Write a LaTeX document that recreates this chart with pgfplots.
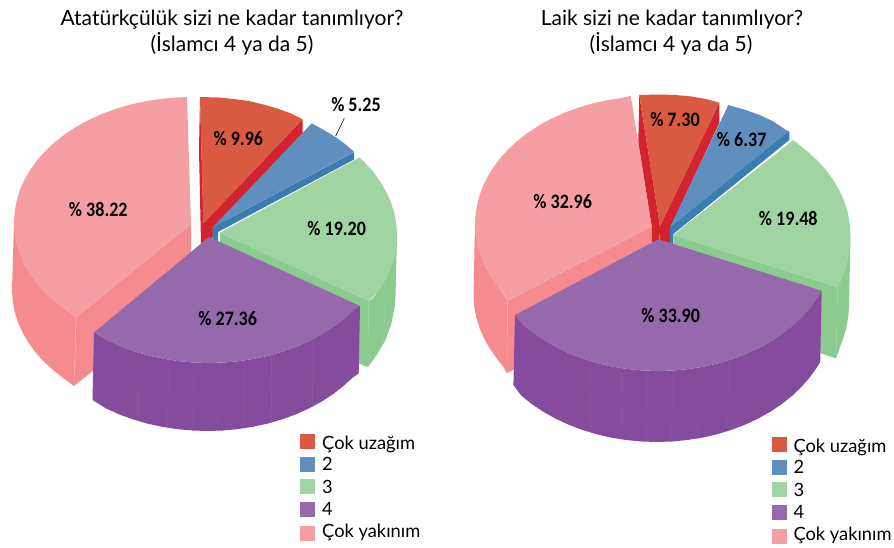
\documentclass[border=0pt]{standalone}
\usepackage{pgfplots}
\pgfplotsset{compat=1.18}
\usepackage{fontspec}
\setmainfont{Lato}
\newfontfamily\labfont[FakeStretch=0.88]{Carlito}
\definecolor{redT}{HTML}{DA5A41}
\definecolor{redW}{HTML}{D2232E}
\definecolor{bluT}{HTML}{5F8FBF}
\definecolor{bluW}{HTML}{3A7DB3}
\definecolor{greT}{HTML}{A0D4A3}
\definecolor{greW}{HTML}{8BCB90}
\definecolor{purT}{HTML}{9669AB}
\definecolor{purW}{HTML}{854B9D}
\definecolor{pinT}{HTML}{F59FA2}
\definecolor{pinW}{HTML}{F58B8E}
\definecolor{seamP}{HTML}{8F5AA6}
\definecolor{seamG}{HTML}{98D09C}
\definecolor{seamK}{HTML}{F7ABAD}
\newcommand{\lab}[3]{\node[font=\labfont\bfseries\fontsize{20.5}{22}\selectfont,inner sep=0pt] at (axis cs:#1,#2) {\% #3};}
\newcommand{\leg}[3]{\node[font=\fontsize{18.3}{20}\selectfont,anchor=base west,inner sep=0pt] at (axis cs:#1,#2) {#3};}
\newcommand{\ttl}[3]{\node[font=\fontsize{21}{24}\selectfont,anchor=base,inner sep=0pt] at (axis cs:#1,#2) {#3};}
\pgfplotsset{
 wedge/.style={draw=none,fill=#1,forget plot,mark=none,line join=round},
 seam/.style={draw=#1,line width=0.4pt,forget plot,mark=none},
}
\begin{document}
\begin{tikzpicture}
\begin{axis}[scale only axis,width=894pt,height=548pt,xmin=0,xmax=894,ymin=0,ymax=548,y dir=reverse,hide axis,clip=false]
\path (axis cs:0,0) rectangle (axis cs:894,548);
% ---------- left pie ----------
\addplot[wedge=pinW] coordinates {(14,222)(16.7,244)(24.7,265)(37.7,284.5)(55.4,302)(66,310)(76,317.5)(74,386)(63.8,378.4)(53.4,370.3)(44,361.7)(35.7,352.5)(28.6,342.8)(22.7,332.8)(18,322.4)(14.7,311.7)(12.7,300.9)(12,290)} -- cycle;
\addplot[wedge=pinW] coordinates {(191,224)(76,317.5)(74,386)(191,292)} -- cycle;
\addplot[wedge=pinT] coordinates {(191,224)(187,97)(175.6,97.5)(160.3,98.9)(145.2,101.3)(130.5,104.5)(116.2,108.7)(102.5,113.7)(89.5,119.6)(77.2,126.2)(65.8,133.6)(55.4,141.7)(46,150.3)(37.7,159.5)(30.6,169.2)(24.7,179.3)(20,189.6)(16.7,200.3)(14.7,211.1)(14,222)(14.7,232.9)(16.7,243.7)(20,254.4)(24.7,264.8)(30.6,274.8)(37.7,284.5)(46,293.7)(55.4,302.3)(65.8,310.4)(76,317.5)} -- cycle;
\addplot[seam=seamK] coordinates {(76,317.5)(74.5,385)};
% red walls
\addplot[wedge=redW] coordinates {(200,97)(203.5,223)(208,238)(201,244)(199,150)} -- cycle;
\addplot[wedge=redW] coordinates {(203.3,223.3)(302.7,119.3)(302.7,133)(215,232)(210,242)(203.3,242)} -- cycle;
\addplot[wedge=redT] coordinates {(203.3,223.3)(200,97)(218.4,97.5)(233.7,99)(248.8,101)(263.5,104.5)(277.8,108.7)(291.5,113.7)(302.7,119.3)} -- cycle;
% blue
\addplot[wedge=bluW] coordinates {(212.7,227.3)(354,152)(354,159.5)(218,232)(218,242)(212.7,242)} -- cycle;
\addplot[wedge=bluT] coordinates {(212.7,227.3)(311.7,123.3)(323,129.5)(335,136.7)(345,144)(354,151.7)} -- cycle;
% green
\addplot[wedge=greW] coordinates {(397,235)(394.3,256.9)(386.3,278.1)(373.3,298)(368.7,301)(367.7,367.3)(376,356)(385,341)(391,325)(394.5,308)(395.5,296)} -- cycle;
\addplot[wedge=greW] coordinates {(220,232.7)(368.7,301)(367.7,367.3)(220,301)} -- cycle;
\addplot[seam=seamG] coordinates {(385.2,279)(383.8,343)};
\addplot[seam=seamG] coordinates {(368.7,301)(368,366)};
\addplot[wedge=greT] coordinates {(220,232.7)(359.5,157.4)(365,162.7)(373.3,172)(380.4,181.8)(386.3,191.9)(391,202.4)(394.3,213.1)(396.3,224)(397,235)(396.3,246)(394.3,256.9)(391,267.6)(386.3,278.1)(380.4,288.2)(373.3,296.5)(368.7,301)} -- cycle;
% purple
\addplot[wedge=purW] coordinates {(94,332.5)(107.5,340.4)(120.5,346.3)(134.2,351.3)(148.5,355.5)(163.2,358.7)(178.3,361.1)(193.6,362.5)(209,363)(224.4,362.5)(239.7,361.1)(254.8,358.7)(269.5,355.5)(283.8,351.3)(297.5,346.3)(310.5,340.4)(322.8,333.8)(334.2,326.4)(344.6,318.3)(354,309.7)(360,306)(358.7,373.5)(352.5,377.7)(343.1,386.3)(332.7,394.4)(321.3,401.8)(309,408.4)(296,414.3)(282.3,419.3)(268,423.5)(253.3,426.7)(238.2,429.1)(222.9,430.5)(207.5,431)(192.1,430.5)(176.8,429.1)(161.7,426.7)(147,423.5)(132.7,419.3)(119,414.3)(106,408.4)(92.5,400)} -- cycle;
\addplot[seam=seamP] coordinates {(139,353)(138.5,421)};
\addplot[seam=seamP] coordinates {(168.3,359.5)(167.8,428)};
\addplot[seam=seamP] coordinates {(193.3,362.5)(192.8,430.5)};
\addplot[seam=seamP] coordinates {(218.3,363)(217.8,431)};
\addplot[seam=seamP] coordinates {(245,360)(244.5,428.5)};
\addplot[seam=seamP] coordinates {(271.7,355)(271.2,423)};
\addplot[seam=seamP] coordinates {(313,339)(312.5,407)};
\addplot[wedge=purT] coordinates {(209,237)(94,332.5)(107.5,340.4)(120.5,346.3)(134.2,351.3)(148.5,355.5)(163.2,358.7)(178.3,361.1)(193.6,362.5)(209,363)(224.4,362.5)(239.7,361.1)(254.8,358.7)(269.5,355.5)(283.8,351.3)(297.5,346.3)(310.5,340.4)(322.8,333.8)(334.2,326.4)(344.6,318.3)(354,309.7)(360,306)} -- cycle;
\addplot[draw=black,line width=0.6pt,forget plot,mark=none] coordinates {(344.3,118.3)(335.7,136)};
% ---------- right pie ----------
\addplot[wedge=pinW] coordinates {(475,224)(477.7,246.2)(485.7,267.8)(498.7,288)(507.7,300.5)(506.7,373.3)(503.5,367)(497.2,359)(490.1,349.1)(484.2,338.8)(479.5,328.1)(476.2,317.2)(474.2,306.2)(473.5,295)} -- cycle;
\addplot[wedge=pinW] coordinates {(651.7,226.7)(507.7,300.5)(506.7,373.3)(651.7,298)} -- cycle;
\addplot[wedge=pinT] coordinates {(651.7,226.7)(630.7,95.7)(621.3,98)(606.2,100.4)(591.5,103.7)(577.2,108)(563.5,113.1)(550.5,119.1)(538.2,126)(526.8,133.5)(516.4,141.7)(507,150.6)(498.7,160)(491.6,169.9)(485.7,180.2)(481,190.9)(477.7,201.8)(475.7,212.8)(475,224)(475.7,235.2)(477.7,246.2)(481,257.1)(485.7,267.8)(491.6,278.1)(498.7,288)(505,296)(507.7,300.5)} -- cycle;
\addplot[seam=seamK] coordinates {(507.7,300.5)(506.9,372)};
% red
\addplot[wedge=redW] coordinates {(639.3,95)(660,226)(659.5,242)(651.7,242)(651.7,226)(638.3,142)} -- cycle;
\addplot[wedge=redW] coordinates {(660,226)(719.3,102.7)(719.3,123)(670,228)(670,243)(660,241)} -- cycle;
\addplot[wedge=redT] coordinates {(660,226.7)(639.3,95)(660,94.5)(675.4,95)(690.7,96.4)(705.8,98.9)(719.3,102.7)} -- cycle;
% blue
\addplot[wedge=bluW] coordinates {(670,227.3)(788.3,131)(789.3,132)(789.3,140)(673.3,234)(673,244)(670,243)} -- cycle;
\addplot[wedge=bluT] coordinates {(670,227.3)(728.3,105)(745.8,110)(759.5,115)(772.5,121)(788.3,131.5)} -- cycle;
% green
\addplot[wedge=greW] coordinates {(850.5,235)(847.8,259)(844.5,271)(837.7,287.3)(836,358.3)(843,339)(846.3,328.2)(848.3,317)(849,306)} -- cycle;
\addplot[wedge=greW] coordinates {(673.3,235)(837.7,287.3)(836,358.3)(673,306)} -- cycle;
\addplot[seam=seamG] coordinates {(837.7,287.3)(836.2,357)};
\addplot[wedge=greT] coordinates {(673.3,235)(793.3,140)(798.7,144.5)(809,152.7)(818.5,161.6)(826.8,171)(833.9,180.9)(839.8,191.2)(844.5,201.9)(847.8,212.8)(849.8,223.8)(850.5,235)(849.8,247)(847.8,259)(844.5,271)(841,281)(837.7,287.3)} -- cycle;
% purple
\addplot[wedge=purW] coordinates {(515,315)(522.7,324.6)(533.1,332.9)(544.5,340.6)(556.8,347.5)(569.8,353.6)(583.5,358.8)(597.8,363.2)(612.5,366.6)(627.6,369)(642.9,370.5)(658.3,371)(673.7,370.5)(689,369)(704.1,366.6)(718.8,363.2)(733.1,358.8)(746.8,353.6)(759.8,347.5)(772.1,340.6)(783.5,332.9)(793.9,324.6)(803.3,315.6)(811.6,306)(818.7,296)(821.7,290.7)(820.2,361.7)(817.2,367)(810.1,377)(801.8,386.6)(792.4,395.6)(782,403.9)(770.6,411.6)(758.3,418.5)(745.3,424.6)(731.6,429.8)(717.3,434.2)(702.6,437.6)(687.5,440)(672.2,441.5)(656.8,442)(641.4,441.5)(626.1,440)(611,437.6)(596.3,434.2)(582,429.8)(568.3,424.6)(555.3,418.5)(543,411.6)(531.6,403.9)(521.2,395.6)(513.4,385)} -- cycle;
\addplot[seam=seamP] coordinates {(590.7,361)(590.2,432)};
\addplot[seam=seamP] coordinates {(621.7,368)(621.2,439.5)};
\addplot[seam=seamP] coordinates {(647.3,370.5)(646.8,441.7)};
\addplot[seam=seamP] coordinates {(672.3,370.5)(671.8,441.5)};
\addplot[seam=seamP] coordinates {(698.3,367.5)(697.8,438.7)};
\addplot[seam=seamP] coordinates {(728.3,360)(727.8,431.5)};
\addplot[wedge=purT] coordinates {(658.3,239.3)(515,315)(522.7,324.6)(533.1,332.9)(544.5,340.6)(556.8,347.5)(569.8,353.6)(583.5,358.8)(597.8,363.2)(612.5,366.6)(627.6,369)(642.9,370.5)(658.3,371)(673.7,370.5)(689,369)(704.1,366.6)(718.8,363.2)(733.1,358.8)(746.8,353.6)(759.8,347.5)(772.1,340.6)(783.5,332.9)(793.9,324.6)(803.3,315.6)(811.6,306)(818.7,296)(821.7,290.7)} -- cycle;
% ---------- legend swatches ----------
\addplot[wedge=redT] coordinates {(300,434.3)(315,434.3)(315,449)(300,449)} -- cycle;
\addplot[wedge=bluT] coordinates {(300,457.3)(315,457.3)(315,471.7)(300,471.7)} -- cycle;
\addplot[wedge=greT] coordinates {(300,479.3)(315,479.3)(315,494)(300,494)} -- cycle;
\addplot[wedge=purT] coordinates {(300,501.7)(315,501.7)(315,516.7)(300,516.7)} -- cycle;
\addplot[wedge=pinT] coordinates {(300,526)(315,526)(315,540.7)(300,540.7)} -- cycle;
\addplot[wedge=redT] coordinates {(772,437.3)(787.3,437.3)(787.3,452)(772,452)} -- cycle;
\addplot[wedge=bluT] coordinates {(772,460.3)(787.3,460.3)(787.3,474.7)(772,474.7)} -- cycle;
\addplot[wedge=greT] coordinates {(772,482.3)(787.3,482.3)(787.3,497)(772,497)} -- cycle;
\addplot[wedge=purT] coordinates {(772,504.7)(787.3,504.7)(787.3,519.7)(772,519.7)} -- cycle;
\addplot[wedge=pinT] coordinates {(772,529)(787.3,529)(787.3,543.7)(772,543.7)} -- cycle;
% ---------- text ----------
\ttl{232}{26}{Atatürkçülük sizi ne kadar tanımlıyor?}
\ttl{232}{51.7}{(İslamcı 4 ya da 5)}
\ttl{672}{25.5}{Laik sizi ne kadar tanımlıyor?}
\ttl{671}{51.3}{(İslamcı 4 ya da 5)}
\lab{238.3}{138.3}{9.96}
\lab{356}{105}{5.25}
\lab{336.7}{228.3}{19.20}
\lab{98.3}{210}{38.22}
\lab{227.7}{318.3}{27.36}
\lab{675}{120}{7.30}
\lab{741.7}{140}{6.37}
\lab{788.3}{218.3}{19.48}
\lab{562.7}{201.7}{32.96}
\lab{670.7}{316}{33.90}
\leg{322}{449}{Çok uzağım}
\leg{322}{470.7}{2}
\leg{322}{493.3}{3}
\leg{322}{515}{4}
\leg{322}{537.3}{Çok yakınım}
\leg{793.3}{452}{Çok uzağım}
\leg{793.3}{473.7}{2}
\leg{793.3}{496.3}{3}
\leg{793.3}{518}{4}
\leg{793.3}{540.3}{Çok yakınım}
\end{axis}
\end{tikzpicture}
\end{document}
